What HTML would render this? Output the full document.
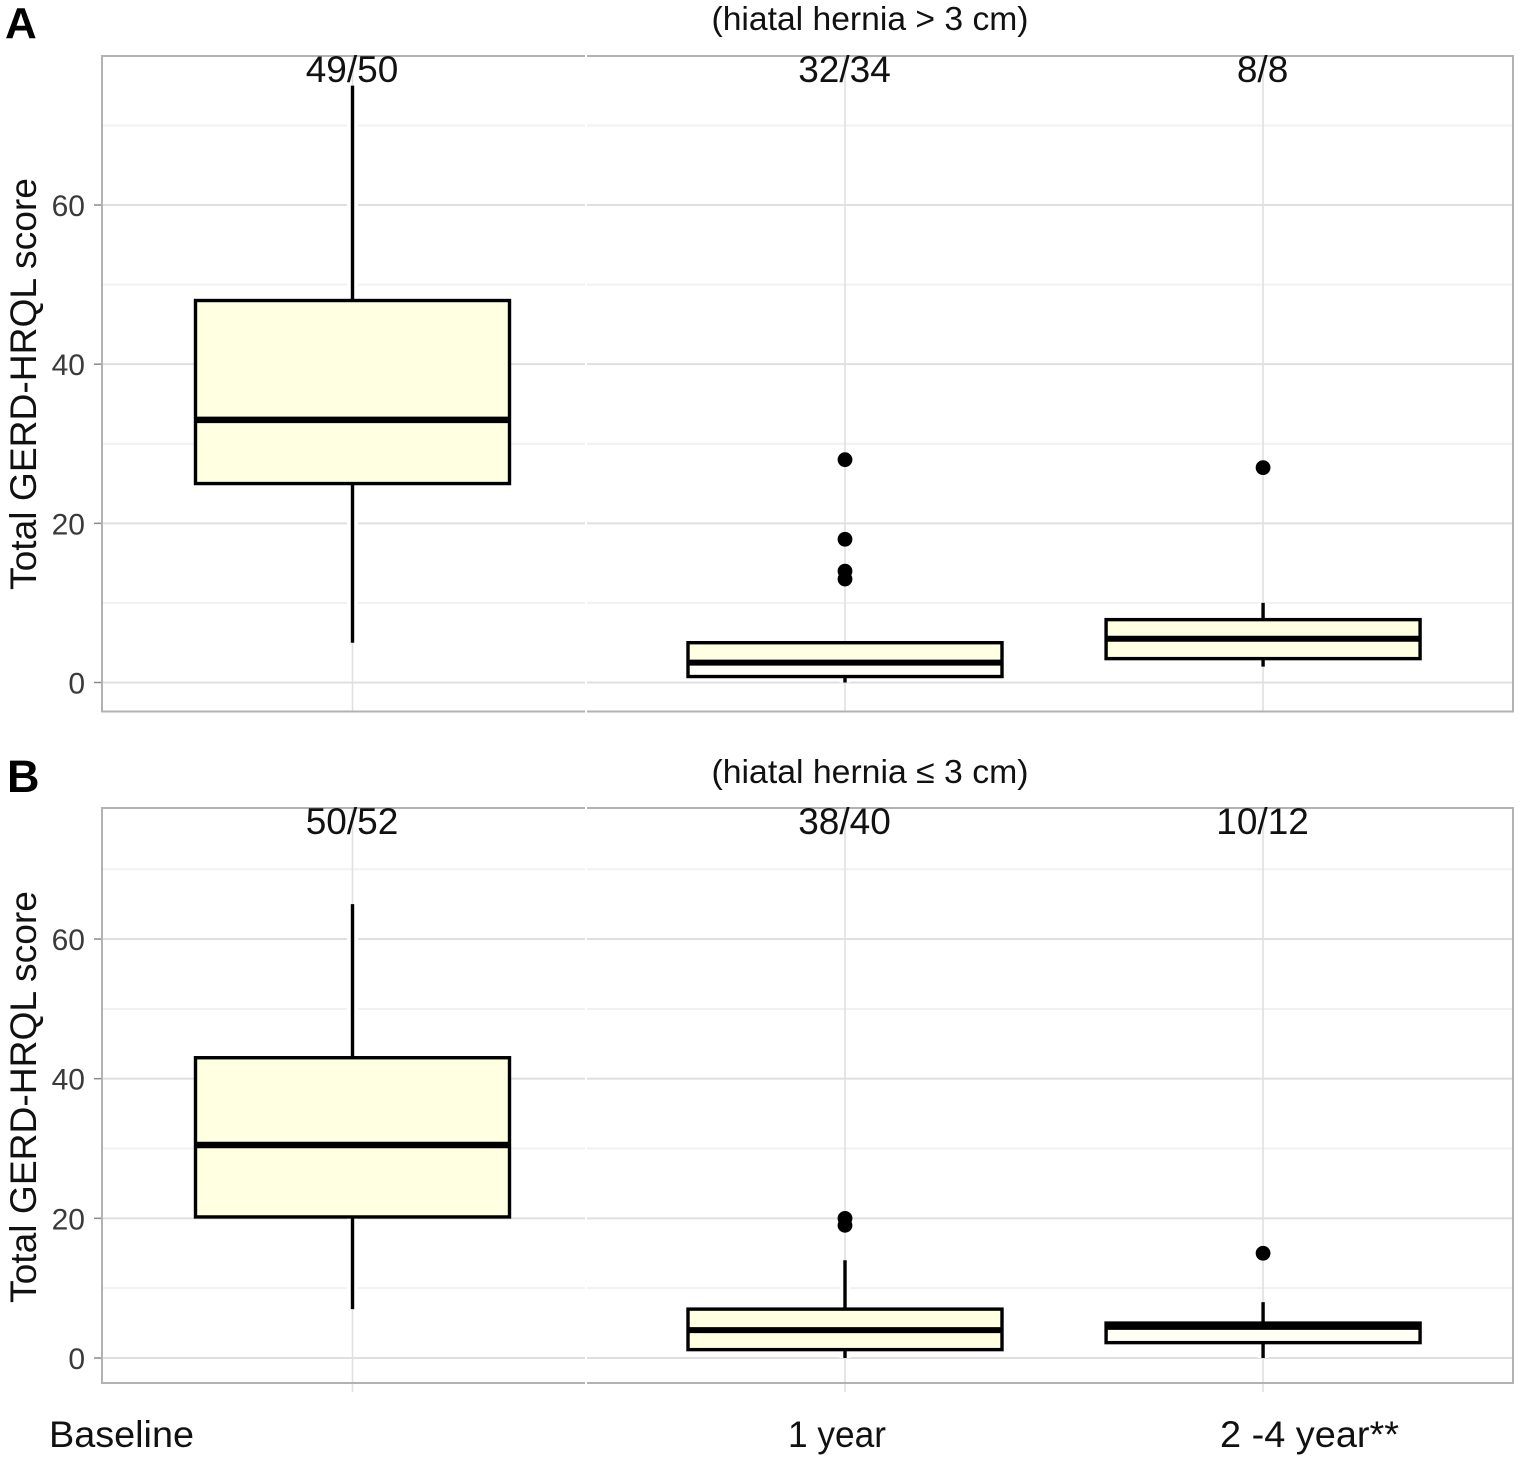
<!DOCTYPE html>
<html lang="en">
<head>
<meta charset="utf-8">
<title>Total GERD-HRQL score by hiatal hernia size</title>
<style>
html,body{margin:0;padding:0;background:#fff;}
svg{display:block;font-family:"Liberation Sans",Arial,sans-serif;}
</style>
</head>
<body>
<svg id="figure" xmlns="http://www.w3.org/2000/svg" width="1524" height="1459" viewBox="0 0 1524 1459">
  <rect x="0" y="0" width="1524" height="1459" fill="#ffffff"/>
  <text x="5" y="38" font-size="44" font-weight="700" fill="#000">A</text>
  <text x="7" y="792" font-size="45" font-weight="700" fill="#000">B</text>
  <text x="870" y="30" font-size="33" text-anchor="middle" textLength="317" lengthAdjust="spacingAndGlyphs" fill="#111">(hiatal hernia &gt; 3 cm)</text>
  <text x="870" y="783" font-size="33" text-anchor="middle" textLength="317" lengthAdjust="spacingAndGlyphs" fill="#111">(hiatal hernia ≤ 3 cm)</text>
  <text transform="translate(36 384) rotate(-90)" font-size="37" text-anchor="middle" textLength="412" lengthAdjust="spacingAndGlyphs" fill="#111">Total GERD-HRQL score</text>
  <text transform="translate(36 1097) rotate(-90)" font-size="37" text-anchor="middle" textLength="412" lengthAdjust="spacingAndGlyphs" fill="#111">Total GERD-HRQL score</text>
  <g id="panel-a"></g>
  <g id="panel-b"></g>
  <text x="49" y="1447" font-size="37" textLength="145" lengthAdjust="spacingAndGlyphs" fill="#111">Baseline</text>
  <text x="788" y="1447" font-size="37" textLength="98" lengthAdjust="spacingAndGlyphs" fill="#111">1 year</text>
  <text x="1220" y="1447" font-size="37" textLength="179" lengthAdjust="spacingAndGlyphs" fill="#111">2 -4 year**</text>
</svg>
<script>
// Shared categories and axis ticks
const categories = ['Baseline', '1 year', '2-4 year'];
const categoryAxisValues = [0, 1.178, 2.178];
const majorTicks = [0, 20, 40, 60];
const minorTicks = [10, 30, 50, 70];

// Panel A: hiatal hernia > 3 cm
const countsA = ['49/50', '32/34', '8/8'];
const lowA = [5, 0, 2];
const q1A = [25, 0.75, 3];
const medianA = [33, 2.5, 5.5];
const q3A = [48, 5, 7.9];
const highA = [75, 5, 10];
const outliersA = [[], [28, 18, 14, 13], [27]];

// Panel B: hiatal hernia <= 3 cm
const countsB = ['50/52', '38/40', '10/12'];
const lowB = [7, 0, 0];
const q1B = [20.2, 1.2, 2.2];
const medianB = [30.5, 4, 4.6];
const q3B = [43, 7, 5];
const highB = [65, 14, 8];
const outliersB = [[], [20, 19], [15]];
const medianWidthB = [6.5, 6, 8];
const medianWidthA = [6.5, 6, 6];

const NS = 'http://www.w3.org/2000/svg';
const frameLeft = 102, frameRight = 1513;
const boxHalfWidth = 157;

function xScale(i) {
  return 352.5 + categoryAxisValues[i] * (492.5 / 1.178);
}

function make(tag, attrs, parent) {
  const el = document.createElementNS(NS, tag);
  for (const k in attrs) el.setAttribute(k, attrs[k]);
  parent.appendChild(el);
  return el;
}

function drawPanel(cfg) {
  const g = document.getElementById(cfg.id);
  const yScale = v => cfg.y0 - v * cfg.pxPerUnit;

  minorTicks.forEach(t => {
    const line = make('line', {x1: frameLeft, x2: frameRight, y1: yScale(t), y2: yScale(t), stroke: '#f1f1f1', 'stroke-width': 2}, g);
    
    
  });
  majorTicks.forEach(t => {
    const line = make('line', {x1: frameLeft, x2: frameRight, y1: yScale(t), y2: yScale(t), stroke: '#dfdfdf', 'stroke-width': 2}, g);
    
    
    const tick = make('line', {x1: 94, x2: frameLeft, y1: yScale(t), y2: yScale(t), stroke: '#8a8a8a', 'stroke-width': 1.5}, g);
    
    
    const label = make('text', {x: 85, y: yScale(t) + 11, 'font-size': 30, 'text-anchor': 'end', fill: '#3a3a3a'}, g);
    
    
    label.textContent = String(t);
  });
  categories.forEach((c, i) => {
    const vg = make('line', {x1: xScale(i), x2: xScale(i), y1: cfg.top, y2: cfg.bottom + cfg.xTick, stroke: '#e0e0e0', 'stroke-width': 1.6}, g);
    
    
  });

  const frame = make('rect', {x: frameLeft, y: cfg.top, width: frameRight - frameLeft, height: cfg.bottom - cfg.top, fill: 'none', stroke: '#b2b2b2', 'stroke-width': 2}, g);
  
  

  const seam = make('rect', {x: 585, y: cfg.top - 3, width: 2, height: cfg.bottom - cfg.top + 6, fill: '#ffffff'}, g);
  
  

  categories.forEach((c, i) => {
    const cx = xScale(i);
    const group = make('g', {}, g);
    
    

    const halo = make('line', {x1: cx, x2: cx, y1: yScale(cfg.high[i]), y2: yScale(cfg.low[i]), stroke: '#ffffff', 'stroke-width': 11}, group);
    
    

    const whisker = make('line', {x1: cx, x2: cx, y1: yScale(cfg.high[i]), y2: yScale(cfg.low[i]), stroke: '#000', 'stroke-width': 3.4}, group);
    
    

    const box = make('rect', {x: cx - boxHalfWidth, y: yScale(cfg.q3[i]), width: boxHalfWidth * 2, height: yScale(cfg.q1[i]) - yScale(cfg.q3[i]), fill: i === cfg.paleBox ? '#fffff4' : '#ffffe2', stroke: '#000', 'stroke-width': 3.4}, group);
    
    

    if (i === cfg.paleLower) {
      const lower = make('rect', {x: cx - boxHalfWidth + 2, y: yScale(cfg.median[i]), width: boxHalfWidth * 2 - 4, height: yScale(cfg.q1[i]) - yScale(cfg.median[i]) - 2, fill: '#fffffa'}, group);
      
      
    }

    const med = make('line', {x1: cx - boxHalfWidth, x2: cx + boxHalfWidth, y1: yScale(cfg.median[i]), y2: yScale(cfg.median[i]), stroke: '#000', 'stroke-width': cfg.medianWidth[i]}, group);
    
    

    cfg.outliers[i].forEach(v => {
      const dot = make('circle', {cx: cx, cy: yScale(v), r: 7.4, fill: '#000'}, group);
      
      
    });

    const count = make('text', {x: cx - 0.5, y: cfg.top + 26, 'font-size': 37, 'text-anchor': 'middle', fill: '#111'}, group);
    
    
    count.textContent = cfg.counts[i];
  });
}

drawPanel({id: 'panel-a', y0: 682.5, pxPerUnit: 7.958, top: 56, bottom: 711.5, xTick: 0, paleBox: -1, paleLower: 1,
  counts: countsA, low: lowA, q1: q1A, median: medianA, q3: q3A, high: highA, outliers: outliersA, medianWidth: medianWidthA});
drawPanel({id: 'panel-b', y0: 1358, pxPerUnit: 6.983, top: 808, bottom: 1383, xTick: 9, paleBox: 2, paleLower: -1,
  counts: countsB, low: lowB, q1: q1B, median: medianB, q3: q3B, high: highB, outliers: outliersB, medianWidth: medianWidthB});
</script>
</body>
</html>
